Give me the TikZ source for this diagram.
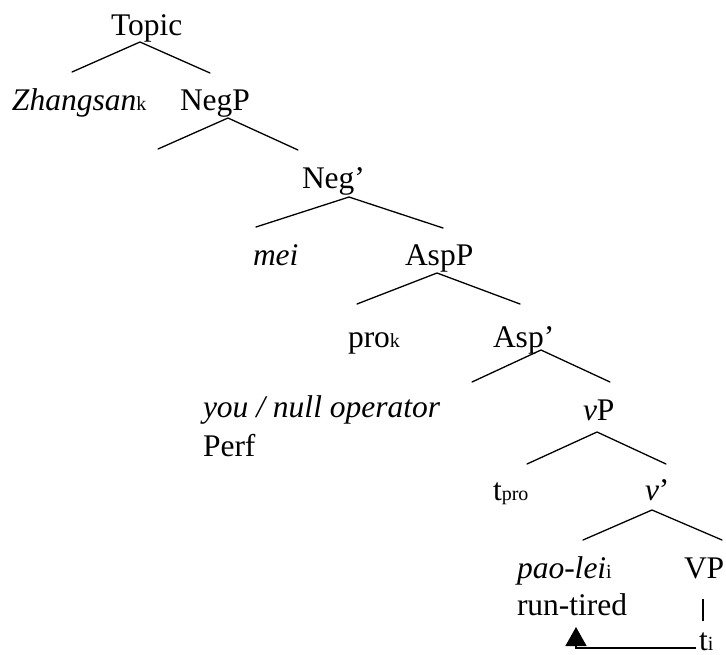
\documentclass[tikz,border=0pt]{standalone}
\usepackage{fontspec}
\setmainfont{Liberation Serif}
\usetikzlibrary{arrows.meta}
\newcommand{\sbs}[1]{{\fontsize{20}{24}\selectfont\upshape #1}}
\begin{document}
\begin{tikzpicture}[x=1pt,y=-1pt,
  lab/.style={inner sep=0pt,outer sep=0pt,anchor=base west,font=\fontsize{31.5}{39}\selectfont},
  branch/.style={line width=1.3pt,line cap=round},
  move/.style={line width=1.3pt,-{Triangle[width=21pt,length=19pt]}}]
\useasboundingbox (0,0) rectangle (726,654);
% labels
\node[lab] (topic) at (111,35) {Topic};
\node[lab] (zs) at (12,110) {\textit{Zhangsan}\sbs{k}};
\node[lab] (negp) at (180,110) {NegP};
\node[lab] (negb) at (302,188) {Neg’};
\node[lab] (mei) at (253,265) {\textit{mei}};
\node[lab] (aspp) at (405,265) {AspP};
\node[lab] (pro) at (348,347) {pro\sbs{k}};
\node[lab] (aspb) at (493,347) {Asp’};
\node[lab] (you) at (203,417) {\textit{you / null operator}};
\node[lab] (perf) at (203,456) {Perf};
\node[lab] (vp) at (583,420) {\textit{v}P};
\node[lab] (tpro) at (493,500) {t\sbs{pro}};
\node[lab] (vb) at (645,500) {\textit{v}’};
\node[lab] (pao) at (517,578) {\textit{pao-lei}\sbs{i}};
\node[lab] (VP) at (684,578) {VP};
\node[lab] (run) at (517,615) {run-tired};
\node[lab] (ti) at (699,650) {t\sbs{i}};
% branch points
\coordinate (topicA) at (140,42);  \coordinate (topicL) at (72,72);   \coordinate (topicR) at (210,73);
\coordinate (negpA) at (228,118);  \coordinate (negpL) at (158,149);  \coordinate (negpR) at (298,150);
\coordinate (negbA) at (349,197);  \coordinate (negbL) at (256,227);  \coordinate (negbR) at (443,228);
\coordinate (asppA) at (437,273);  \coordinate (asppL) at (357,304);  \coordinate (asppR) at (520,304);
\coordinate (aspbA) at (541,350);  \coordinate (aspbL) at (472,382);  \coordinate (aspbR) at (610,382);
\coordinate (vpA) at (597,432);    \coordinate (vpL) at (527,464);    \coordinate (vpR) at (666,464);
\coordinate (vbA) at (652,510);    \coordinate (vbL) at (583,540);    \coordinate (vbR) at (722,540);
\coordinate (VPtop) at (703,599);  \coordinate (VPbot) at (703,621);
\coordinate (tiW) at (696,648);    \coordinate (corner) at (576,648); \coordinate (tip) at (576,627);
\draw[branch] (topicL) -- (topicA) -- (topicR);
\draw[branch] (negpL) -- (negpA) -- (negpR);
\draw[branch] (negbL) -- (negbA) -- (negbR);
\draw[branch] (asppL) -- (asppA) -- (asppR);
\draw[branch] (aspbL) -- (aspbA) -- (aspbR);
\draw[branch] (vpL) -- (vpA) -- (vpR);
\draw[branch] (vbL) -- (vbA) -- (vbR);
\draw[line width=1.1pt] (VPtop) -- (VPbot);
\draw[move] (tiW) -- (corner) -- (tip);
\end{tikzpicture}
\end{document}
